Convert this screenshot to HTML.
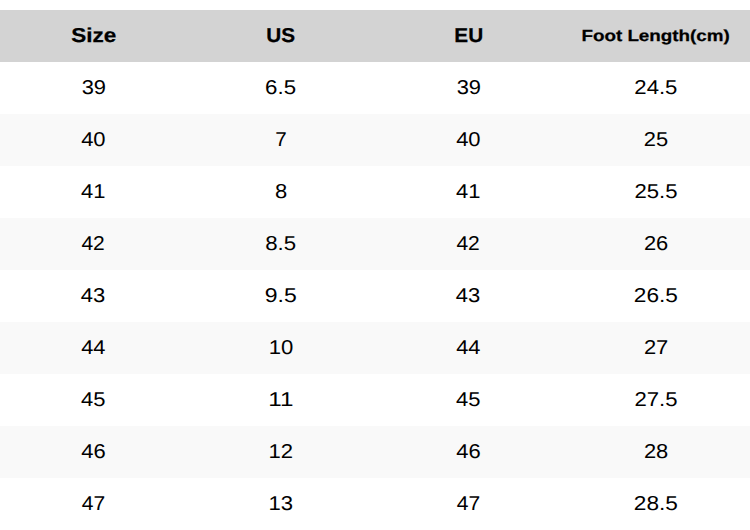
<!DOCTYPE html>
<html><head><meta charset="utf-8"><title>Size Chart</title><style>
html,body{margin:0;padding:0;background:#fff;width:750px;height:530px;overflow:hidden}
table{border-collapse:collapse;width:750px;margin-top:10px;font-family:"Liberation Sans",sans-serif;table-layout:fixed;text-rendering:geometricPrecision}
td,th{height:52px;padding:0;text-align:center;font-size:20px;color:#000;white-space:nowrap}
th{background:#d3d3d3;font-weight:bold;-webkit-text-stroke:0.25px #000}
td{-webkit-text-stroke:0px #000}
tr:nth-child(odd) td{background:#f9f9f9}
th.s{font-size:16px}
span{display:inline-block}
</style></head><body><table>
<tr><th><span style="transform:translate(-0.20px,0.00px) scale(1.1262,1.000)">Size</span></th><th><span style="transform:translate(-0.30px,0.00px) scale(1.0384,1.000)">US</span></th><th><span style="transform:translate(-0.18px,0.00px) scale(1.0385,1.000)">EU</span></th><th class="s"><span style="transform:translate(-0.49px,1.00px) scale(1.1761,1.000)">Foot Length(cm)</span></th></tr>
<tr><td><span style="transform:translate(-0.27px,0.00px) scale(1.0952,1.000)">39</span></td><td><span style="transform:translate(-0.30px,0.00px) scale(1.1136,1.000)">6.5</span></td><td><span style="transform:translate(-0.27px,0.00px) scale(1.0952,1.000)">39</span></td><td><span style="transform:translate(-0.60px,0.00px) scale(1.1065,1.000)">24.5</span></td></tr>
<tr><td><span style="transform:translate(-0.76px,0.00px) scale(1.0991,1.000)">40</span></td><td><span style="transform:translate(-0.50px,0.00px) scale(1.0306,1.000)">7</span></td><td><span style="transform:translate(-0.76px,0.00px) scale(1.0991,1.000)">40</span></td><td><span style="transform:translate(-0.22px,0.00px) scale(1.0952,1.000)">25</span></td></tr>
<tr><td><span style="transform:translate(-0.89px,0.00px) scale(1.0973,1.000)">41</span></td><td><span style="transform:translate(-0.44px,0.00px) scale(1.1000,1.000)">8</span></td><td><span style="transform:translate(-0.89px,0.00px) scale(1.0973,1.000)">41</span></td><td><span style="transform:translate(-0.52px,0.00px) scale(1.1065,1.000)">25.5</span></td></tr>
<tr><td><span style="transform:translate(-1.02px,0.00px) scale(1.0516,1.000)">42</span></td><td><span style="transform:translate(-0.30px,0.00px) scale(1.1123,1.000)">8.5</span></td><td><span style="transform:translate(-1.02px,0.00px) scale(1.0516,1.000)">42</span></td><td><span style="transform:translate(-0.05px,0.00px) scale(1.0952,1.000)">26</span></td></tr>
<tr><td><span style="transform:translate(-1.07px,0.00px) scale(1.0994,1.000)">43</span></td><td><span style="transform:translate(-0.16px,0.00px) scale(1.1507,1.000)">9.5</span></td><td><span style="transform:translate(-1.07px,0.00px) scale(1.0994,1.000)">43</span></td><td><span style="transform:translate(-0.63px,0.00px) scale(1.1329,1.000)">26.5</span></td></tr>
<tr><td><span style="transform:translate(-0.79px,0.00px) scale(1.0928,1.000)">44</span></td><td><span style="transform:translate(-0.19px,0.00px) scale(1.1042,1.000)">10</span></td><td><span style="transform:translate(-0.79px,0.00px) scale(1.0928,1.000)">44</span></td><td><span style="transform:translate(-0.04px,0.00px) scale(1.0973,1.000)">27</span></td></tr>
<tr><td><span style="transform:translate(-0.91px,0.00px) scale(1.0994,1.000)">45</span></td><td><span style="transform:translate(-0.58px,0.00px) scale(1.2128,1.000)">11</span></td><td><span style="transform:translate(-0.91px,0.00px) scale(1.0994,1.000)">45</span></td><td><span style="transform:translate(-0.54px,0.00px) scale(1.1065,1.000)">27.5</span></td></tr>
<tr><td><span style="transform:translate(-0.70px,0.00px) scale(1.0991,1.000)">46</span></td><td><span style="transform:translate(-0.42px,0.00px) scale(1.1046,1.000)">12</span></td><td><span style="transform:translate(-0.70px,0.00px) scale(1.0991,1.000)">46</span></td><td><span style="transform:translate(-0.01px,0.00px) scale(1.0952,1.000)">28</span></td></tr>
<tr><td><span style="transform:translate(-0.70px,0.00px) scale(1.0516,1.000)">47</span></td><td><span style="transform:translate(-0.38px,0.00px) scale(1.1042,1.000)">13</span></td><td><span style="transform:translate(-0.70px,0.00px) scale(1.0516,1.000)">47</span></td><td><span style="transform:translate(-0.55px,0.00px) scale(1.1329,1.000)">28.5</span></td></tr>
</table></body></html>
